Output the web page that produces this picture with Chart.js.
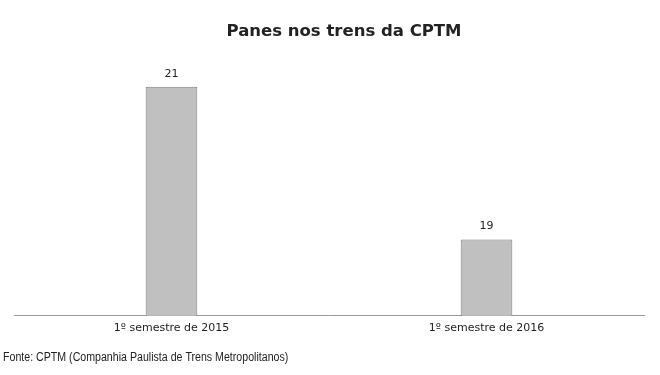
<!DOCTYPE html>
<html><head><meta charset="utf-8">
<script src="https://cdn.jsdelivr.net/npm/chart.js@4"></script>
<style>html,body{margin:0;padding:0;background:#fff;}#wrap{width:660px;height:375px;}</style>
</head><body><div id="wrap"><canvas id="c" width="660" height="375"></canvas></div>
<script>
const categories = ["1º semestre de 2015", "1º semestre de 2016"];
const values = [21, 19];
const titleText = "Panes nos trens da CPTM";
const sourceText = "Fonte: CPTM (Companhia Paulista de Trens Metropolitanos)";

const labelsPlugin = {
  id: 'labels',
  afterDatasetsDraw(chart) {
    const ctx = chart.ctx;
    const meta = chart.getDatasetMeta(0);
    ctx.save();
    ctx.font = '11px "DejaVu Sans"';
    ctx.fillStyle = '#222';
    ctx.textAlign = 'center';
    ctx.textBaseline = 'middle';
    meta.data.forEach((bar, i) => {
      ctx.fillText(String(values[i]), bar.x, bar.y - 13);
    });
    ctx.restore();
  },
  afterDraw(chart) {
    const ctx = chart.ctx;
    ctx.save();
    ctx.font = 'bold 16.5px "DejaVu Sans"';
    ctx.fillStyle = '#222';
    ctx.textAlign = 'center';
    ctx.textBaseline = 'middle';
    ctx.fillText(titleText, 344, 32);
    ctx.restore();
    ctx.save();
    ctx.font = '12px "Liberation Sans"';
    ctx.fillStyle = '#222';
    ctx.textAlign = 'left';
    ctx.textBaseline = 'middle';
    ctx.translate(3, 358);
    ctx.scale(0.885, 1);
    ctx.fillText(sourceText, 0, 0);
    ctx.restore();
  }
};

new Chart(document.getElementById('c'), {
  type: 'bar',
  data: {
    labels: categories,
    datasets: [{
      data: values,
      backgroundColor: '#c0c0c0',
      borderColor: '#7a7a7a',
      borderWidth: 1,
      barPercentage: 1,
      categoryPercentage: 0.164
    }]
  },
  options: {
    responsive: false,
    animation: false,
    layout: { padding: { left: 14, right: 16, top: 60, bottom: 34 } },
    plugins: {
      legend: { display: false },
      tooltip: { enabled: false },
      title: { display: false }
    },
    scales: {
      x: {
        grid: { display: false, drawTicks: false, tickLength: 0 },
        border: { display: true, color: '#999', width: 1 },
        ticks: { color: '#222', font: { family: '"DejaVu Sans"', size: 11 }, padding: 6 }
      },
      y: {
        display: false,
        min: 18,
        max: 21.35
      }
    }
  },
  plugins: [labelsPlugin]
});
</script></body></html>
